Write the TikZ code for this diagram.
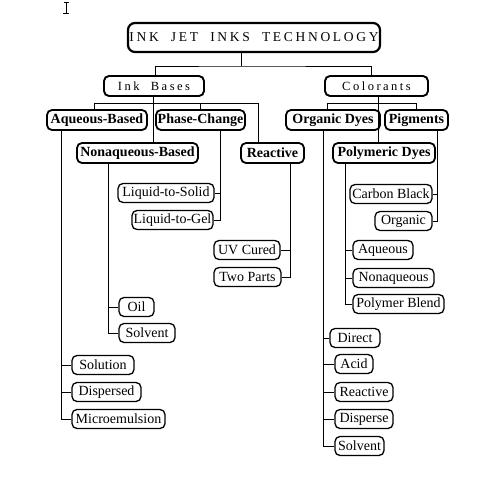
\documentclass[tikz,border=0pt]{standalone}
\usepackage{fontspec}
\setmainfont{Liberation Serif}
\newfontfamily\headfont[LetterSpace=20]{Liberation Serif}
\begin{document}
\begin{tikzpicture}[x=1pt,y=-1pt,
  box/.style={draw,rounded corners=5pt,inner xsep=0.5pt,inner ysep=0pt,align=center},
  titlebox/.style={box,line width=2.2pt,rounded corners=7pt,font=\headfont\fontsize{13.5}{15}\selectfont,minimum height=29pt},
  headbox/.style={box,line width=1.9pt,font=\headfont\fontsize{12.5}{14}\selectfont,minimum height=20pt},
  boldbox/.style={box,line width=1.8pt,font=\bfseries\fontsize{14}{15}\selectfont,minimum height=20pt},
  leaf/.style={box,line width=1.3pt,font=\fontsize{14}{15}\selectfont,minimum height=19pt},
  conn/.style={line width=0.9pt}]
\useasboundingbox (0,0) rectangle (481,485);
% stray I-beam mark
\draw[line width=0.8pt] (66,2) -- (66,13) (63.5,2.5) -- (68.5,2.5) (63,13) -- (69,13);

% nodes
\node[titlebox,minimum width=252pt] (title) at (254,37.5) {INK\ \ JET\ \ INKS\ \ TECHNOLOGY};
\node[headbox,minimum width=100pt] (inkbases) at (154,86) {Ink\ \ Bases};
\node[headbox,minimum width=103pt] (colorants) at (376.5,86) {Colorants};

\node[boldbox,minimum width=100pt] (aqueousb) at (97,120) {Aqueous-Based};
\node[boldbox,minimum width=89pt] (phase) at (200.5,120) {Phase-Change};
\node[boldbox,minimum width=121pt] (nonaq) at (137.5,153) {Nonaqueous-Based};
\node[boldbox,minimum width=63pt] (reactive) at (272.5,153) {Reactive};
\node[boldbox,minimum width=94pt] (organic) at (333,120) {Organic Dyes};
\node[boldbox,minimum width=63pt] (pigments) at (416.5,120) {Pigments};
\node[boldbox,minimum width=102pt] (polymeric) at (384,153) {Polymeric Dyes};

\node[leaf,minimum width=96pt] (liqsolid) at (166,193) {Liquid-to-Solid};
\node[leaf,minimum width=81pt] (liqgel) at (172.5,220) {Liquid-to-Gel};
\node[leaf,minimum width=66pt] (uv) at (247,250) {UV Cured};
\node[leaf,minimum width=67pt] (two) at (247.5,277) {Two Parts};
\node[leaf,minimum width=35pt] (oil) at (136.5,307) {Oil};
\node[leaf,minimum width=56pt] (solventa) at (147,333) {Solvent};
\node[leaf,minimum width=62pt] (solution) at (103,365) {Solution};
\node[leaf,minimum width=69pt] (dispersed) at (106.5,392) {Dispersed};
\node[leaf,minimum width=93pt] (micro) at (118.5,419) {Microemulsion};

\node[leaf,minimum width=82pt] (carbon) at (391,194) {Carbon Black};
\node[leaf,minimum width=57pt] (organicp) at (403.5,221) {Organic};
\node[leaf,minimum width=60pt] (aqueous) at (383,250) {Aqueous};
\node[leaf,minimum width=81pt] (nonaqueous) at (393.5,278) {Nonaqueous};
\node[leaf,minimum width=91pt] (blend) at (398.5,304) {Polymer Blend};
\node[leaf,minimum width=50pt] (direct) at (355,338) {Direct};
\node[leaf,minimum width=38pt] (acid) at (354,364) {Acid};
\node[leaf,minimum width=58pt] (reactiveb) at (364,392) {Reactive};
\node[leaf,minimum width=58pt] (disperse) at (364,419) {Disperse};
\node[leaf,minimum width=49pt] (solventb) at (359.5,446) {Solvent};

% helper coordinates
\coordinate (j0) at (241,66);
\coordinate (ib) at (153,103);
\coordinate (aqd) at (94,103);
\coordinate (rdrop) at (258,103);
\coordinate (cb) at (378,103);
\coordinate (ord) at (327,103);
\coordinate (pgd) at (416,103);
\coordinate (va) at (61,0);
\coordinate (vn) at (108,0);
\coordinate (vp) at (220,0);
\coordinate (vr) at (290,0);
\coordinate (vo) at (323,0);
\coordinate (vm) at (345,0);
\coordinate (vg) at (437,0);

% top level
\draw[conn] (title.south -| j0) -- (j0);
\draw[conn] (inkbases.north -| 155,0) |- (j0) -| (colorants.north -| 371,0);

% ink bases
\draw[conn] (inkbases.south -| ib) -- (nonaq.north -| ib);
\draw[conn] (aqueousb.north -| aqd) -- (aqd) -- (rdrop) -- (rdrop |- reactive.north);
\draw[conn] (phase.north) -- (phase.north |- rdrop);

% colorants
\draw[conn] (colorants.south -| cb) -- (polymeric.north -| cb);
\draw[conn] (organic.north -| ord) -- (ord) -- (pgd) -- (pigments.north -| pgd);

% branches
\draw[conn] (aqueousb.south -| va) |- (micro.west);
\draw[conn] (va |- solution.west) -- (solution.west);
\draw[conn] (va |- dispersed.west) -- (dispersed.west);

\draw[conn] (nonaq.south -| vn) |- (solventa.west);
\draw[conn] (vn |- oil.west) -- (oil.west);

\draw[conn] (phase.south -| vp) |- (liqgel.east);
\draw[conn] (vp |- liqsolid.east) -- (liqsolid.east);

\draw[conn] (reactive.south -| vr) |- (two.east);
\draw[conn] (vr |- uv.east) -- (uv.east);

\draw[conn] (organic.south -| vo) |- (solventb.west);
\draw[conn] (vo |- direct.west) -- (direct.west);
\draw[conn] (vo |- acid.west) -- (acid.west);
\draw[conn] (vo |- reactiveb.west) -- (reactiveb.west);
\draw[conn] (vo |- disperse.west) -- (disperse.west);

\draw[conn] (polymeric.south -| vm) |- (blend.west);
\draw[conn] (vm |- aqueous.west) -- (aqueous.west);
\draw[conn] (vm |- nonaqueous.west) -- (nonaqueous.west);

\draw[conn] (pigments.south -| vg) |- (organicp.east);
\draw[conn] (vg |- carbon.east) -- (carbon.east);
\end{tikzpicture}
\end{document}
